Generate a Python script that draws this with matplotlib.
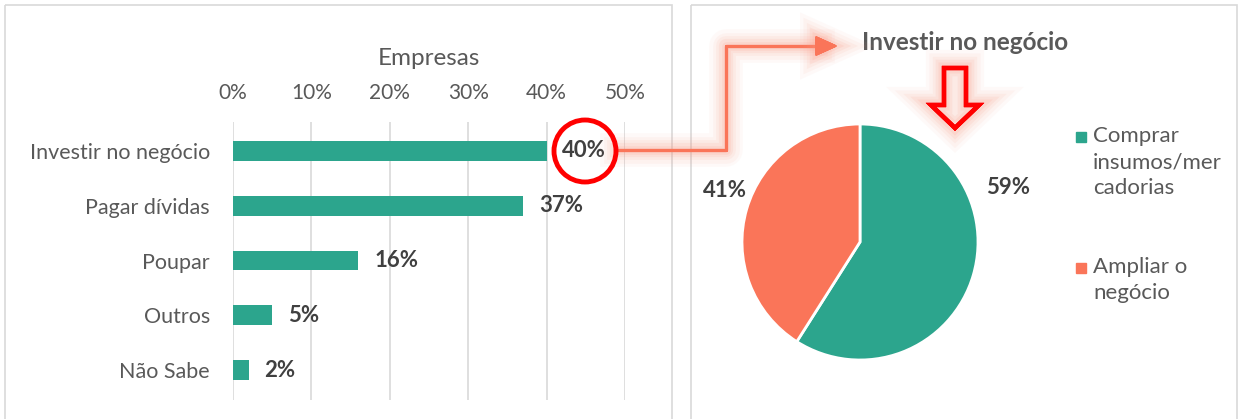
import matplotlib.pyplot as plt
import matplotlib.patheffects as pe
from matplotlib.patches import Rectangle, Circle, Polygon
from matplotlib.lines import Line2D

plt.rcParams['font.family'] = ['Lato', 'DejaVu Sans']

# data
categorias = ['Investir no negócio', 'Pagar dívidas', 'Poupar', 'Outros', 'Não Sabe']
empresas = [0.40, 0.37, 0.16, 0.05, 0.02]
pie_labels = ['Comprar\ninsumos/mer\ncadorias', 'Ampliar o\nnegócio']
pie_values = [0.59, 0.41]

teal = '#2ca58d'
coral = '#fa7559'
gray = '#595959'
dark = '#404040'

W, H = 1240, 419
fig = plt.figure(figsize=(W / 100, H / 100), dpi=100)


def fx(x):
    return x / W


def fy(y):
    return 1 - y / H


# overlay axes in pixel coordinates for borders and annotations
ov = fig.add_axes([0, 0, 1, 1], zorder=3)
ov.set_xlim(0, W)
ov.set_ylim(H, 0)
ov.axis('off')
ov.patch.set_alpha(0)

for x0, x1 in [(5, 672), (691, 1237)]:
    ov.add_patch(Rectangle((x0, 5), x1 - x0, 430, fill=False,
                           edgecolor='#d9d9d9', lw=1.2, zorder=0))

# bar chart
ax = fig.add_axes([fx(233), fy(400), fx(625 - 233), fy(122) - fy(400)], zorder=2)
ypos = list(range(len(categorias)))
ax.barh(ypos, empresas, height=0.36, color=teal)
ax.set_xlim(0, 0.5)
ax.set_ylim(4.545, -0.527)
ax.set_xticks([0, 0.1, 0.2, 0.3, 0.4, 0.5])
ax.set_xticklabels(['0%', '10%', '20%', '30%', '40%', '50%'])
ax.xaxis.tick_top()
ax.xaxis.set_label_position('top')
ax.set_xlabel('Empresas', fontsize=17.5, color=gray, labelpad=13)
ax.set_yticks(ypos)
ax.set_yticklabels(categorias)
ax.tick_params(axis='x', length=0, labelsize=15, labelcolor=gray, pad=14)
ax.tick_params(axis='y', length=0, labelsize=15.5, labelcolor=gray, pad=16.5)
ax.grid(axis='x', color='#d9d9d9', lw=1.2)
ax.set_axisbelow(True)
for s in ax.spines.values():
    s.set_visible(False)
ax.patch.set_alpha(0)
for y, v in zip(ypos, empresas):
    ax.text(v + 0.02, y, f'{v:.0%}', va='center', ha='left', fontsize=16,
            fontweight='bold', color=dark)

# red circle around 40%
ov.add_patch(Circle((585, 151), 31, fill=False, edgecolor='#ff0000', lw=3.5, zorder=5))


def glow_fx(base):
    effects = []
    for w, a in [(base + 22, 0.05), (base + 17, 0.07), (base + 12, 0.09),
                 (base + 8, 0.12), (base + 4, 0.15)]:
        effects.append(pe.withStroke(linewidth=w, foreground='#fb9a85', alpha=a))
    effects.append(pe.Normal())
    return effects


ov.add_line(Line2D([617, 726, 726, 818], [150, 150, 46, 46], color=coral, lw=2.2,
                   path_effects=glow_fx(2.2), zorder=4))
ov.add_patch(Polygon([[816, 37], [836, 46], [816, 55]], closed=True, color=coral,
                     path_effects=glow_fx(1), zorder=4))

# hollow down arrow
ov.add_patch(Polygon([[944, 68], [966, 68], [966, 105], [979, 105], [955, 128],
                      [931, 105], [944, 105]], closed=True, fill=False,
                     edgecolor='#ff0000', lw=3, path_effects=glow_fx(4), zorder=4))

ov.text(965, 43, 'Investir no negócio', ha='center', va='center', fontsize=17.5,
        fontweight='bold', color=gray)

# pie
r = 118
pax = fig.add_axes([fx(860 - r), fy(242 + r), fx(2 * r), fy(242 - r) - fy(242 + r)], zorder=2)
pax.pie(pie_values, colors=[teal, coral], startangle=90, counterclock=False,
        wedgeprops=dict(edgecolor='white', linewidth=2))
pax.set_aspect('auto')
pax.set_xlim(-1, 1)
pax.set_ylim(-1, 1)
ov.text(1008, 187, f'{pie_values[0]:.0%}', ha='center', va='center', fontsize=16,
        fontweight='bold', color=dark)
ov.text(725, 190, f'{pie_values[1]:.0%}', ha='center', va='center', fontsize=16,
        fontweight='bold', color=dark)

# legend
for yy, c, lab in [(137, teal, pie_labels[0]), (268, coral, pie_labels[1])]:
    ov.add_patch(Rectangle((1076, yy - 5), 10, 10, color=c))
    ov.text(1093, yy - 11, lab, ha='left', va='top', fontsize=16, color=gray,
            linespacing=1.38)

fig.savefig('out.png', dpi=100)
